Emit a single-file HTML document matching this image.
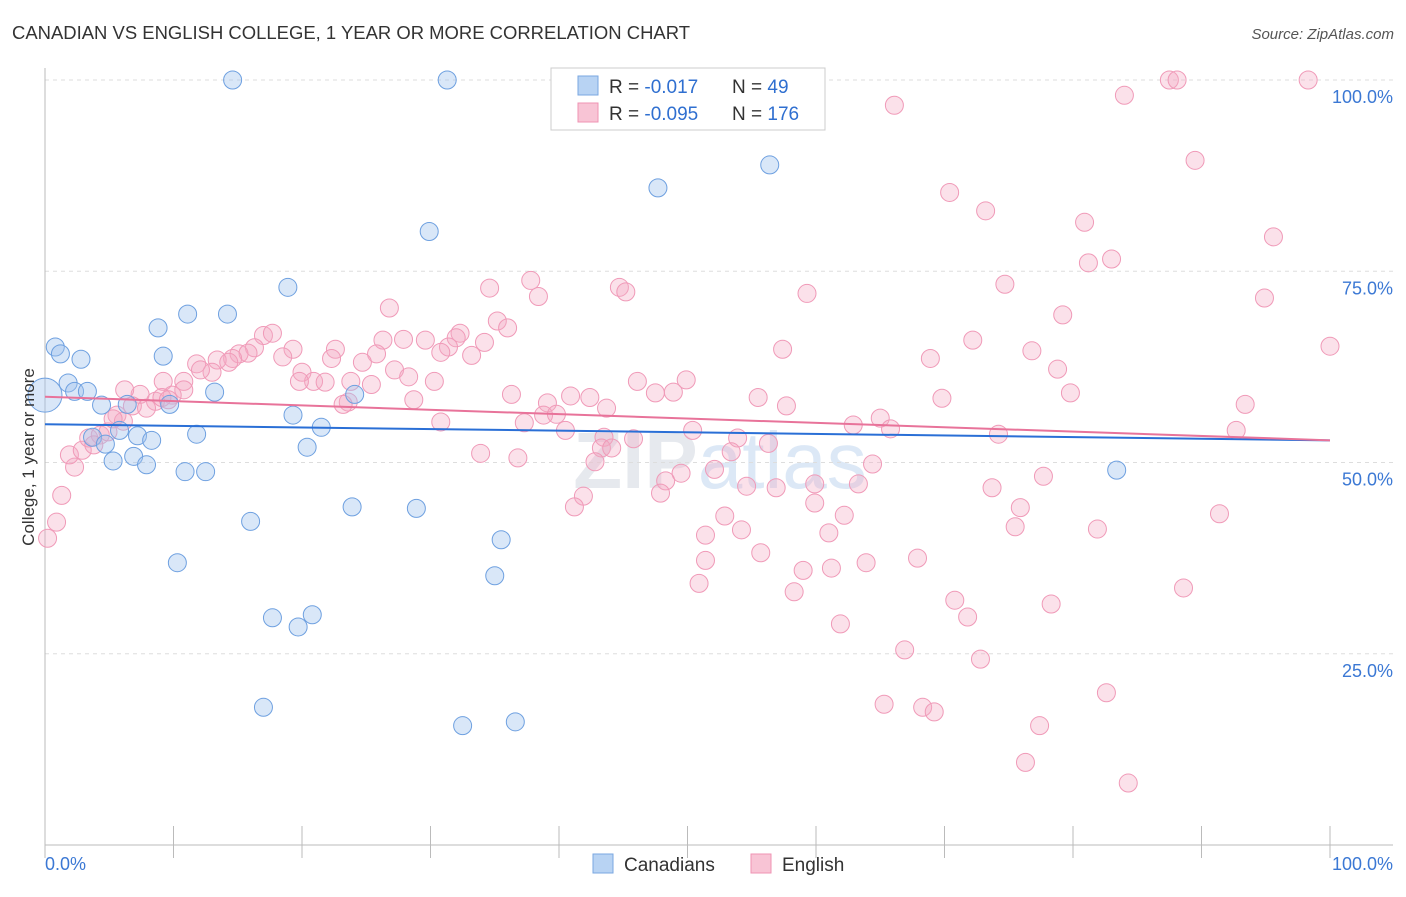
<!DOCTYPE html>
<html><head><meta charset="utf-8"><style>
body{margin:0;background:#fff;font-family:"Liberation Sans",sans-serif;}
svg text{font-family:"Liberation Sans",sans-serif;}
</style></head><body>
<svg id="chart" width="1406" height="892">
<text x="12" y="39" font-size="18" fill="#333" textLength="678" lengthAdjust="spacingAndGlyphs">CANADIAN VS ENGLISH COLLEGE, 1 YEAR OR MORE CORRELATION CHART</text>
<text x="1394" y="39" font-size="15" fill="#555" text-anchor="end" font-style="italic">Source: ZipAtlas.com</text>
<text x="720" y="488" font-size="80" fill="#e6e9ee" text-anchor="middle" font-weight="bold">ZIP<tspan fill="#dce8f6" font-weight="normal">atlas</tspan></text>
<g id="grid"></g>
<g id="axes"></g>
<g id="pts"></g>
<g id="lines"></g>
<text transform="translate(34,457) rotate(-90)" font-size="17" fill="#333" text-anchor="middle">College, 1 year or more</text>
<g>
<rect x="551" y="68" width="274" height="62" fill="#fff" stroke="#ccc"/>
<rect x="578" y="76" width="20" height="19" fill="#b8d3f3" stroke="#7aa7e0"/>
<rect x="578" y="103" width="20" height="19" fill="#f8c4d5" stroke="#ef93b3"/>
<text x="609" y="93" font-size="19" fill="#333">R = <tspan fill="#2f6fd0">-0.017</tspan></text>
<text x="732" y="93" font-size="19" fill="#333">N = <tspan fill="#2f6fd0"> 49</tspan></text>
<text x="609" y="120" font-size="19" fill="#333">R = <tspan fill="#2f6fd0">-0.095</tspan></text>
<text x="732" y="120" font-size="19" fill="#333">N = <tspan fill="#2f6fd0">176</tspan></text>
</g>
<g>
<rect x="593" y="854" width="20" height="19" fill="#b8d3f3" stroke="#7aa7e0"/>
<text x="624" y="871" font-size="19" fill="#333">Canadians</text>
<rect x="751" y="854" width="20" height="19" fill="#f8c4d5" stroke="#ef93b3"/>
<text x="782" y="871" font-size="19" fill="#333">English</text>
</g>
</svg>
<script>
const blueX=[14.6,31.3,56.4,47.7,29.9,18.9,8.8,11.1,14.2,0.8,1.2,2.8,9.2,1.8,2.3,3.3,4.4,6.4,9.7,13.2,0,3.7,4.7,5.8,7.2,8.3,11.8,19.3,21.5,20.4,5.3,6.9,7.9,10.9,12.5,24.1,16.0,23.9,28.9,35.5,10.3,35.0,17.7,19.7,20.8,17.0,32.5,36.6,83.4];
const blueY=[100,100,88.9,85.9,80.2,72.9,67.6,69.4,69.4,65.1,64.2,63.5,63.9,60.4,59.3,59.3,57.5,57.6,57.6,59.2,58.8,53.3,52.4,54.2,53.5,52.9,53.7,56.2,54.6,52.0,50.2,50.8,49.7,48.8,48.8,58.9,42.3,44.2,44.0,39.9,36.9,35.2,29.7,28.5,30.1,18.0,15.6,16.1,49.0];
const pinkX=[98.3,87.5,88.1,84.0,66.1,89.5,70.4,73.2,80.9,95.6,83.0,81.2,37.8,44.7,45.2,34.6,38.4,59.3,74.7,94.9,26.8,79.2,35.2,36.0,17.0,17.7,26.3,27.9,32.3,32.0,34.2,29.6,31.4,33.2,30.8,22.6,25.8,19.3,18.5,16.3,15.1,15.8,14.6,13.4,11.8,13.0,12.1,14.3,22.3,24.7,27.2,57.4,68.9,72.2,76.8,100,78.8,20.0,20.9,21.8,28.3,30.3,19.8,10.8,9.2,10.8,7.4,8.6,9.9,6.8,5.6,6.1,7.9,9.1,23.8,25.4,23.6,23.2,28.7,36.3,40.9,42.4,39.1,46.1,47.5,49.9,48.9,55.5,57.7,43.7,38.8,39.8,69.8,79.8,93.4,65.0,62.9,65.8,92.7,74.2,30.8,37.3,40.5,43.5,45.8,43.3,44.1,50.4,53.9,56.3,53.4,33.9,36.8,42.8,64.4,49.5,52.1,48.3,47.9,54.6,56.9,59.9,63.3,73.7,77.7,41.9,41.2,52.9,51.4,54.2,59.9,62.2,75.9,75.5,81.9,91.4,55.7,51.4,61.0,63.9,67.9,59.0,61.2,50.9,58.3,70.8,78.3,88.6,71.8,61.9,66.9,72.8,82.6,65.3,68.3,69.2,77.4,76.3,84.3,0.9,0.2,1.3,2.3,1.9,2.9,3.4,4.3,4.9,5.3,3.8,6.2,9.6];
const pinkY=[100,100,100,98.0,96.7,89.5,85.3,82.9,81.4,79.5,76.6,76.1,73.8,72.9,72.3,72.8,71.7,72.1,73.3,71.5,70.2,69.3,68.5,67.6,66.6,66.9,66.0,66.1,66.9,66.3,65.7,66.0,65.1,64.0,64.4,64.8,64.2,64.8,63.8,65.0,64.2,64.3,63.6,63.4,62.9,61.8,62.1,63.1,63.6,63.1,62.1,64.8,63.6,66.0,64.6,65.2,62.2,61.8,60.6,60.5,61.2,60.6,60.6,60.6,60.6,59.5,58.9,58.0,58.8,57.4,56.2,55.4,57.1,58.5,60.6,60.2,57.9,57.6,58.2,58.9,58.7,58.5,57.8,60.6,59.1,60.8,59.2,58.5,57.4,57.1,56.2,56.3,58.4,59.1,57.6,55.8,54.9,54.4,54.2,53.7,55.3,55.2,54.2,53.3,53.1,51.9,51.9,54.2,53.2,52.5,51.4,51.2,50.6,50.1,49.8,48.6,49.1,47.6,46.0,46.9,46.7,47.2,47.2,46.7,48.2,45.6,44.2,43.0,40.5,41.2,44.7,43.1,44.1,41.6,41.3,43.3,38.2,37.2,40.8,36.9,37.5,35.9,36.2,34.2,33.1,32.0,31.5,33.6,29.8,28.9,25.5,24.3,19.9,18.4,18.0,17.4,15.6,10.8,8.1,42.2,40.1,45.7,49.4,51.0,51.6,53.2,53.6,54.0,55.7,52.3,59.5,58.2];
const blueTrend=[55.0,52.9];
const pinkTrend=[58.6,52.9];
const yTicks=[100,75,50,25];
const yTickLabels=["100.0%","75.0%","50.0%","25.0%"];
const NS="http://www.w3.org/2000/svg";
const X0=45,X1=1330,Y0=845,Y100=80;
const sx=v=>X0+(X1-X0)*v/100;
const sy=v=>Y0-(Y0-Y100)*v/100;
function mk(tag,attrs,parent){const e=document.createElementNS(NS,tag);for(const k in attrs)e.setAttribute(k,attrs[k]);parent.appendChild(e);return e;}
const grid=document.getElementById('grid'),axes=document.getElementById('axes'),pts=document.getElementById('pts'),lines=document.getElementById('lines');
yTicks.forEach((t,i)=>{
 const l=mk('line',{x1:X0,x2:1393,y1:sy(t),y2:sy(t),stroke:'#ddd','stroke-dasharray':'4,4'},grid);
 
 
 const tx=mk('text',{x:1393,y:sy(t)+23,'font-size':18,fill:'#3b78d4','text-anchor':'end'},axes);
 tx.textContent=yTickLabels[i];
 
 
});
const xa=mk('line',{x1:X0,x2:1393,y1:Y0,y2:Y0,stroke:'#bbb'},axes);


const ya=mk('line',{x1:X0,x2:X0,y1:68,y2:Y0,stroke:'#bbb'},axes);


for(let i=0;i<=10;i++){const t=mk('line',{x1:sx(i*10),x2:sx(i*10),y1:826,y2:858,stroke:'#bbb'},axes);
 
 }
const xl0=mk('text',{x:45,y:870,'font-size':18,fill:'#3b78d4'},axes);xl0.textContent='0.0%';


const xl1=mk('text',{x:1393,y:870,'font-size':18,fill:'#3b78d4','text-anchor':'end'},axes);xl1.textContent='100.0%';


pinkX.forEach((x,i)=>{const c=mk('circle',{cx:sx(x),cy:sy(pinkY[i]),r:9,fill:'rgba(244,170,196,0.35)',stroke:'#f09ab8','stroke-width':1},pts);
 
 });
blueX.forEach((x,i)=>{const c=mk('circle',{cx:sx(x),cy:sy(blueY[i]),r:i===20?17:9,fill:'rgba(160,195,238,0.4)',stroke:'#6ea0e0','stroke-width':1},pts);
 
 });
const bl=mk('line',{x1:sx(0),x2:sx(100),y1:sy(blueTrend[0]),y2:sy(blueTrend[1]),stroke:'#2a6fd6','stroke-width':2},lines);


const pl=mk('line',{x1:sx(0),x2:sx(100),y1:sy(pinkTrend[0]),y2:sy(pinkTrend[1]),stroke:'#e8739a','stroke-width':2},lines);


</script>
</body></html>
